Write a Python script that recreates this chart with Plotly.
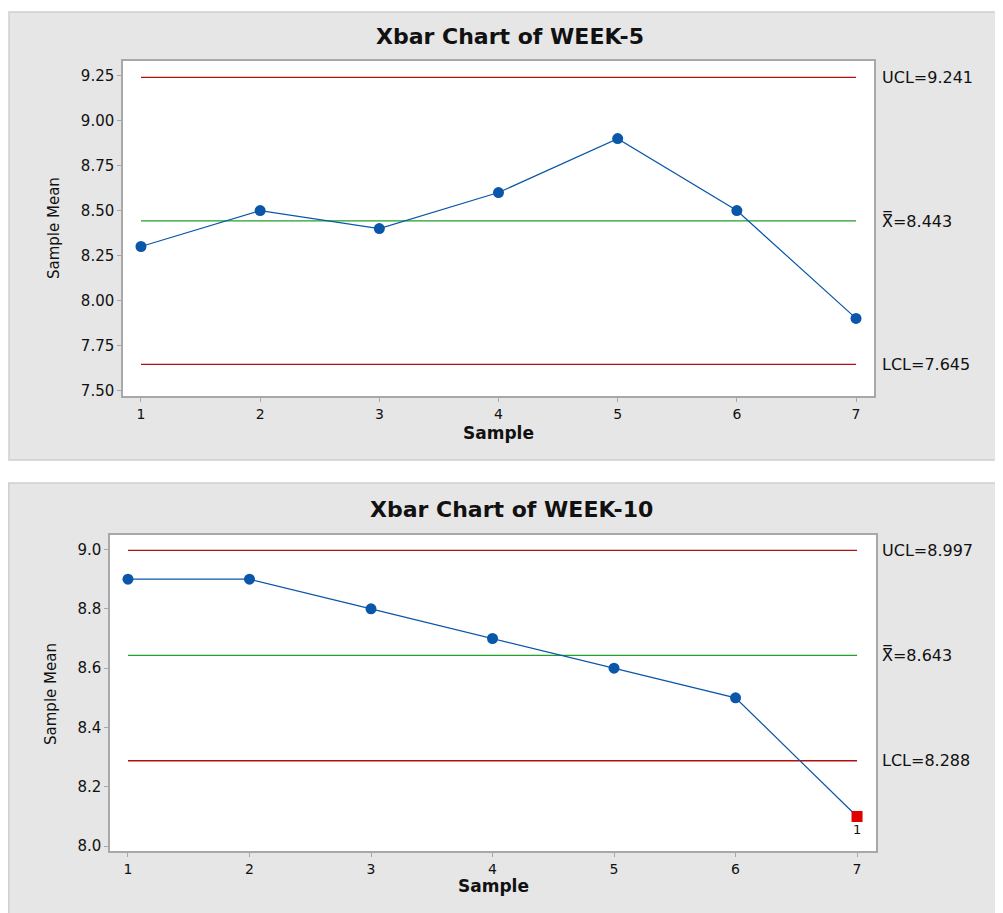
import plotly.graph_objects as go

samples = [1, 2, 3, 4, 5, 6, 7]
week5_means = [8.3, 8.5, 8.4, 8.6, 8.9, 8.5, 7.9]
week5_limits = {"UCL": 9.241, "CL": 8.443, "LCL": 7.645}
week10_means = [8.9, 8.9, 8.8, 8.7, 8.6, 8.5, 8.1]
week10_limits = {"UCL": 8.997, "CL": 8.643, "LCL": 8.288}
week10_flagged = [7]  # sample out of control (test 1)

# page has an 8px body margin, so the figure is shifted by 8px
OFF = 8
W, H = 1003 - OFF, 913 - OFF
FONT = "DejaVu Sans"
BLUE = "#0a56a8"
RED = "#b01010"
GREEN = "#22a02a"
RED_PT = "#e00000"

fig = go.Figure()

def add_chart(xa, ya, means, limits, flagged):
    ok_x = [s for s in samples if s not in flagged]
    ok_y = [m for s, m in zip(samples, means) if s not in flagged]
    for key, col in (("UCL", RED), ("CL", GREEN), ("LCL", RED)):
        fig.add_trace(go.Scatter(x=[samples[0], samples[-1]], y=[limits[key]] * 2,
                                 mode="lines", line=dict(color=col, width=1.3),
                                 xaxis=xa, yaxis=ya, showlegend=False, hoverinfo="skip"))
    fig.add_trace(go.Scatter(x=samples, y=means, mode="lines",
                             line=dict(color=BLUE, width=1.2),
                             xaxis=xa, yaxis=ya, showlegend=False))
    fig.add_trace(go.Scatter(x=ok_x, y=ok_y, mode="markers",
                             marker=dict(color=BLUE, size=11, symbol="circle"),
                             xaxis=xa, yaxis=ya, showlegend=False))
    if flagged:
        fx = flagged
        fy = [m for s, m in zip(samples, means) if s in flagged]
        fig.add_trace(go.Scatter(x=fx, y=fy, mode="markers",
                                 marker=dict(color=RED_PT, size=11, symbol="square"),
                                 xaxis=xa, yaxis=ya, showlegend=False))

add_chart("x", "y", week5_means, week5_limits, [])
add_chart("x2", "y2", week10_means, week10_limits, week10_flagged)

def py(pix):
    return 1 - (pix - OFF) / H

def px(pix):
    return (pix - OFF) / W

axis_common = dict(showline=True, mirror=True, linecolor="#a8a8a8", linewidth=1.5,
                   ticks="outside", ticklen=4, tickcolor="#a8a8a8", showgrid=False,
                   zeroline=False)
yfont = dict(family=FONT, size=15, color="#111")
xfont = dict(family=FONT, size=14, color="#111")

fig.update_layout(
    width=W, height=H, margin=dict(l=0, r=0, t=0, b=0),
    paper_bgcolor="white", plot_bgcolor="white",
    xaxis=dict(domain=[px(123), px(874)], range=[0.849, 7.151], anchor="y",
               tickvals=samples, tickfont=xfont, **axis_common),
    yaxis=dict(domain=[py(398), py(61)], range=[7.467, 9.333], anchor="x",
               tickvals=[7.5, 7.75, 8.0, 8.25, 8.5, 8.75, 9.0, 9.25], tickformat=".2f",
               tickfont=yfont, **axis_common),
    xaxis2=dict(domain=[px(110), px(876)], range=[0.852, 7.156], anchor="y2",
                tickvals=samples, tickfont=xfont, **axis_common),
    yaxis2=dict(domain=[py(855), py(537)], range=[7.983, 9.05], anchor="x2",
                tickvals=[8.0, 8.2, 8.4, 8.6, 8.8, 9.0], tickformat=".1f",
                tickfont=yfont, **axis_common),
)

# gray panel backgrounds
fig.add_shape(type="rect", xref="paper", yref="paper", x0=px(9), x1=1.01, y0=py(462), y1=py(12),
              fillcolor="#e6e6e6", line=dict(color="#cfcfcf", width=1.5), layer="below")
fig.add_shape(type="rect", xref="paper", yref="paper", x0=0.0008, x1=1.01, y0=-0.01, y1=py(485),
              fillcolor="#e6e6e6", line=dict(color="#cfcfcf", width=1.5), layer="below")
# white plot areas
fig.add_shape(type="rect", xref="x domain", yref="y domain", x0=0, x1=1, y0=0, y1=1,
              fillcolor="white", line=dict(width=0), layer="below")
fig.add_shape(type="rect", xref="x2 domain", yref="y2 domain", x0=0, x1=1, y0=0, y1=1,
              fillcolor="white", line=dict(width=0), layer="below")

ann = []
def text(x, y, s, size=13, xref="paper", yref="paper", xanchor="center", yanchor="middle", **kw):
    ann.append(dict(x=x, y=y, text=s, xref=xref, yref=yref, xanchor=xanchor, yanchor=yanchor,
                    showarrow=False, font=dict(family=FONT, size=size, color="#111"), **kw))

# titles
text(px(510), py(37), "<b>Xbar Chart of WEEK-5</b>", size=22)
text(px(511), py(512), "<b>Xbar Chart of WEEK-10</b>", size=22)
# axis titles
text(px(498), py(435), "<b>Sample</b>", size=17)
text(px(493), py(890), "<b>Sample</b>", size=17)
text(px(54), py(229), "Sample Mean", size=15, textangle=-90)
text(px(51), py(697), "Sample Mean", size=15, textangle=-90)

# limit labels
def limit_labels(yref, limits):
    text(px(880), limits["UCL"], "UCL=%.3f" % limits["UCL"], size=16, xref="paper", yref=yref, xanchor="left")
    text(px(880), limits["CL"], "X\u033F=%.3f" % limits["CL"], size=16, xref="paper", yref=yref, xanchor="left")
    text(px(880), limits["LCL"], "LCL=%.3f" % limits["LCL"], size=16, xref="paper", yref=yref, xanchor="left")

limit_labels("y", week5_limits)
limit_labels("y2", week10_limits)

for s in week10_flagged:
    text(s, week10_means[s - 1], "1", size=13, xref="x2", yref="y2", yshift=-13)

fig.update_layout(annotations=ann)
fig.write_html("out.html")
